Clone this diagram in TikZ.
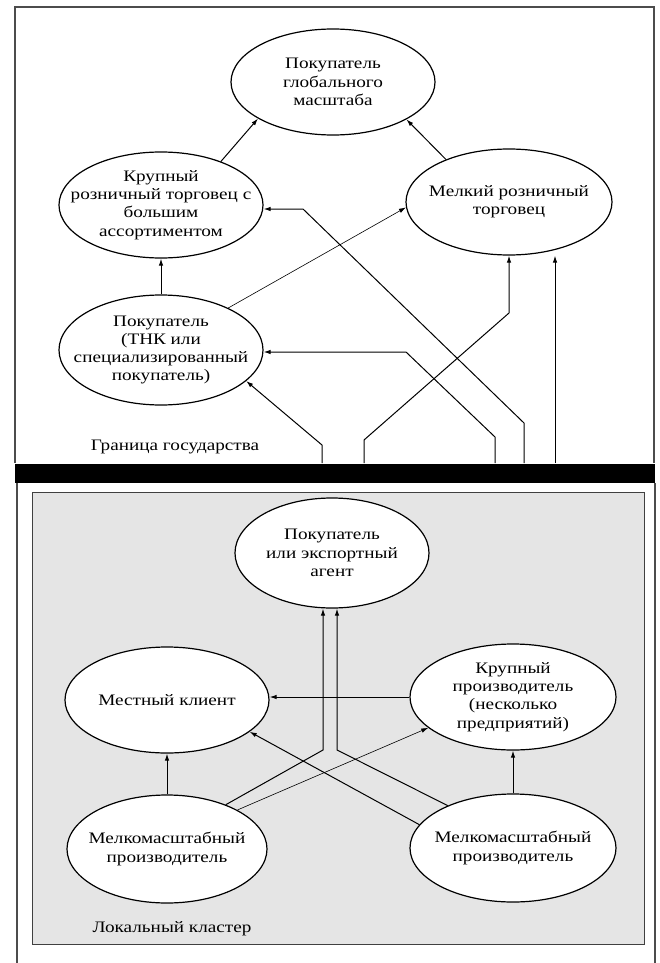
\documentclass[tikz,border=0pt]{standalone}
\usepackage{fontspec}
\setmainfont{Liberation Serif}[FakeStretch=1.2]
\usetikzlibrary{shapes.geometric,arrows.meta}
\begin{document}
\begin{tikzpicture}[x=1pt,y=-1pt,
  ell/.style={draw, ellipse, line width=1.2pt, fill=white, inner sep=0pt},
  txt/.style={align=center, inner sep=0pt, font=\fontsize{16pt}{18.3pt}\selectfont},
  conn/.style={line width=1pt, -{Latex[length=7pt,width=4.5pt]}},
  thinconn/.style={line width=0.6pt, -{Latex[length=7pt,width=4.5pt]}},
  frame/.style={line width=1.2pt, draw=black!70}]
\useasboundingbox (0,0) rectangle (660,963);

% frames
\draw[frame] (15,463) -- (15,7) -- (654,7) -- (654,463);
\draw[frame] (17,483) -- (17,963);
\draw[frame] (655,483) -- (655,963);
\fill[black] (15,464) rectangle (655,483);
\draw[line width=1pt, draw=black!75, fill=black!10] (32,492) rectangle (644,944);

% top ellipses
\node[ell, minimum width=204pt, minimum height=106pt] (G) at (333,82) {};
\node[txt] (Gt) at (G.center) {Покупатель\\глобального\\масштаба};
\node[ell, minimum width=204pt, minimum height=106pt] (L) at (161,205) {};
\node[txt] (Lt) at (L.center) {Крупный\\розничный торговец с\\большим\\ассортиментом};
\node[ell, minimum width=206pt, minimum height=106pt] (S) at (509,202) {};
\node[txt] (St) at (S.center) {Мелкий розничный\\торговец};
\node[ell, minimum width=204pt, minimum height=110pt] (T) at (161,350) {};
\node[txt] (Tt) at (T.center) {Покупатель\\(ТНК или\\специализированный\\покупатель)};

\node[txt] (border) at (175,447) {Граница государства};

% top connectors
\coordinate (b1) at (322,463);
\coordinate (b2) at (364,463);
\coordinate (b3) at (495,463);
\coordinate (b4) at (524,463);
\coordinate (b5) at (555,463);
\coordinate (k1) at (303,209);
\coordinate (k2) at (406,352);
\draw[conn] (L.36) -- (G.206);
\draw[conn] (S.146) -- (G.-27);
\draw[conn] (T.north) -- (L.south);
\draw[thinconn] (T.32) -- (S.183);
\draw[conn] (b4) -- (524,423) -- (k1) -- (k1 -| L.east);
\draw[conn] (b3) -- (495,437) -- (k2) -- (k2 -| T.east);
\draw[conn] (b1) -- (322,445) -- (T.-20);
\draw[conn] (b2) -- (364,440) -- (509,313) -- (S.south);
\draw[conn] (b5) -- (b5 |- S.south);

% bottom ellipses
\node[ell, minimum width=194pt, minimum height=110pt] (E) at (332,553) {};
\node[txt] (Et) at (E.center) {Покупатель\\или экспортный\\агент};
\node[ell, minimum width=204pt, minimum height=106pt] (M) at (167,700) {};
\node[txt] (Mt) at (M.center) {Местный клиент};
\node[ell, minimum width=206pt, minimum height=106pt] (P) at (513,697) {};
\node[txt] (Pt) at (P.center) {Крупный\\производитель\\(несколько\\предприятий)};
\node[ell, minimum width=200pt, minimum height=108pt] (A) at (167,849) {};
\node[txt] (At) at (A.center) {Мелкомасштабный\\производитель};
\node[ell, minimum width=206pt, minimum height=108pt] (B) at (513,848) {};
\node[txt] (Bt) at (B.center) {Мелкомасштабный\\производитель};

\node[txt] (cluster) at (172,929) {Локальный кластер};

% bottom connectors
\coordinate (c1) at (323,750);
\coordinate (c2) at (337,750);
\draw[conn] (A.37) -- (c1) -- (c1 |- E.south);
\draw[conn] (B.147) -- (c2) -- (c2 |- E.south);
\draw[conn] (P.west) -- (P.west -| M.east);
\draw[conn] (A.north) -- (M.south);
\draw[conn] (B.north) -- (P.south);
\draw[thinconn] (A.29) -- (P.200);
\draw[conn] (B.166) -- (M.-21);
\end{tikzpicture}
\end{document}
